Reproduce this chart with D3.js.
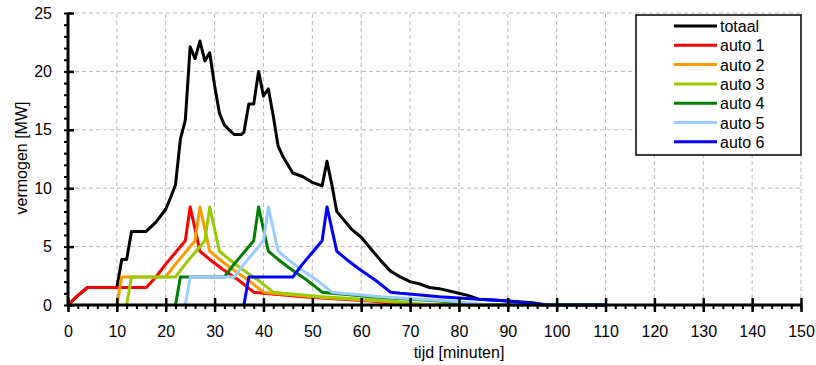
<!DOCTYPE html>
<html>
<head>
<meta charset="utf-8">
<script src="https://cdn.jsdelivr.net/npm/d3@7"></script>
<style>
  body { margin: 0; background: #fff; }
  text { font-family: "Liberation Sans", Arial, sans-serif; }
</style>
</head>
<body>
<div id="chart"></div>
<script>
// series names and colours
var names = ["totaal", "auto 1", "auto 2", "auto 3", "auto 4", "auto 5", "auto 6"];
var colors = ["#000000", "#ff0000", "#ff9900", "#99cc00", "#008000", "#99ccff", "#0000ff"];

// [tijd, vermogen]
var totaal = [[0,0],[2,0.8],[4,1.5],[10,1.5],[11,3.9],[12,3.9],[13,6.3],[16,6.3],[18,7.1],[20,8.2],[21,9.2],[22,10.3],
  [23,14.2],[24,15.8],[25,22.1],[26,21.1],[27,22.6],[28,20.9],[29,21.6],[30,18.8],[31,16.4],[32,15.4],[33,15.0],
  [34,14.6],[35.5,14.6],[36,14.8],[37,17.2],[38,17.2],[39,20.0],[40,17.9],[41,18.5],[42,16.2],[43,13.6],[44,12.7],
  [46,11.3],[48,11.0],[50,10.5],[52,10.2],[53,12.3],[54,10.3],[55,8.0],[56,7.5],[58,6.5],[60,5.8],[62,4.8],[64,3.8],
  [66,2.9],[68,2.4],[70,2.0],[72,1.8],[74,1.5],[76,1.4],[78,1.2],[80,1.0],[82,0.8],[84,0.5],[86,0.45],[88,0.4],
  [90,0.35],[95,0.2],[98,0],[110,0]];
var auto1 = [[0,0],[2,0.8],[4,1.5],[16,1.5],[18,2.4],[20,3.5],[22,4.5],[24,5.5],[25,8.4],[27,4.6],[29,3.9],[31.5,3.1],
  [35,2.1],[38,1.1],[40,1.0],[43,0.9],[48,0.7],[56,0.5],[62,0.35],[70,0],[110,0]];
var auto2 = [[10,0],[11,2.4],[20,2.4],[22,3.5],[24,4.5],[26,5.5],[27,8.4],[29,4.6],[31,3.9],[33.5,3.1],[37,2.1],
  [40,1.1],[42,1.0],[45,0.9],[50,0.7],[58,0.5],[64,0.35],[72,0],[110,0]];
var auto3 = [[12,0],[13,2.4],[22,2.4],[24,3.5],[26,4.5],[28,5.5],[29,8.4],[31,4.6],[33,3.9],[35.5,3.1],[39,2.1],
  [42,1.1],[44,1.0],[47,0.9],[52,0.7],[60,0.5],[66,0.35],[74,0],[110,0]];
var auto4 = [[22,0],[23,2.4],[32,2.4],[34,3.5],[36,4.5],[38,5.5],[39,8.4],[41,4.6],[43,3.9],[45.5,3.1],[49,2.1],
  [52,1.1],[54,1.0],[57,0.9],[62,0.7],[70,0.5],[76,0.35],[84,0],[110,0]];
var auto5 = [[24,0],[25,2.4],[34,2.4],[36,3.5],[38,4.5],[40,5.5],[41,8.4],[43,4.6],[45,3.9],[47.5,3.1],[51,2.1],
  [54,1.1],[56,1.0],[59,0.9],[64,0.7],[72,0.5],[78,0.35],[86,0],[110,0]];
var auto6 = [[36,0],[37,2.4],[46,2.4],[48,3.5],[50,4.5],[52,5.5],[53,8.4],[55,4.6],[57,3.9],[59.5,3.1],[63,2.1],
  [66,1.1],[68,1.0],[71,0.9],[76,0.7],[84,0.5],[90,0.35],[98,0],[110,0]];

var xTicks = [0,10,20,30,40,50,60,70,80,90,100,110,120,130,140,150];
var yTicks = [0,5,10,15,20,25];

function init() {
    var series = [totaal, auto1, auto2, auto3, auto4, auto5, auto6];
    var w = 816;
    var h = 365;

    var svg = d3.select("#chart")
        .append("svg")
        .attr("width", w)
        .attr("height", h);

    var x = d3.scaleLinear().domain([0, 150]).range([68, 801]);
    var y = d3.scaleLinear().domain([0, 25]).range([305, 13]);

    //dashed grid
    svg.append("g").selectAll("line")
        .data(xTicks.slice(1))
        .enter().append("line")
        .attr("x1", function (d) { return x(d); })
        .attr("x2", function (d) { return x(d); })
        .attr("y1", y(0))
        .attr("y2", y(25))
        .attr("stroke", "#b8b8b8")
        .attr("stroke-width", 1)
        .attr("stroke-dasharray", "4,3");
    svg.append("g").selectAll("line")
        .data(yTicks.slice(1))
        .enter().append("line")
        .attr("x1", x(0))
        .attr("x2", x(150))
        .attr("y1", function (d) { return y(d); })
        .attr("y2", function (d) { return y(d); })
        .attr("stroke", "#b8b8b8")
        .attr("stroke-width", 1)
        .attr("stroke-dasharray", "4,3");

    //lines
    var line = d3.line()
        .x(function (d) { return x(d[0]); })
        .y(function (d) { return y(d[1]); });

    svg.append("g").selectAll("path")
        .data(series)
        .enter().append("path")
        .attr("d", line)
        .attr("fill", "none")
        .attr("stroke", function (d, i) { return colors[i]; })
        .attr("stroke-width", 3)
        .attr("stroke-linejoin", "round");

    //minor ticks
    var xMinor = d3.range(0, 151, 2);
    var yMinor = d3.range(0, 26, 1);
    svg.append("g")
        .attr("transform", "translate(0," + y(0) + ")")
        .call(d3.axisBottom(x).tickValues(xMinor).tickSize(4).tickFormat(""))
        .call(function (g) {
            g.select(".domain").remove();
            g.selectAll("line").attr("stroke-width", 2);
        });
    svg.append("g")
        .attr("transform", "translate(" + x(0) + ",0)")
        .call(d3.axisLeft(y).tickValues(yMinor).tickSize(4).tickFormat(""))
        .call(function (g) {
            g.select(".domain").remove();
            g.selectAll("line").attr("stroke-width", 2);
        });

    //major axes
    var xAxis = svg.append("g")
        .attr("transform", "translate(0," + y(0) + ")")
        .call(d3.axisBottom(x).tickValues(xTicks).tickSize(7).tickPadding(14));
    xAxis.selectAll(".tick line").attr("y1", -7).attr("stroke-width", 2.5);
    xAxis.select(".domain").attr("d", "M" + x(0) + ",0H" + x(150)).attr("stroke-width", 3);
    xAxis.selectAll("text").attr("font-size", 16).attr("fill", "#000")
        .style("font-family", "Liberation Sans, Arial, sans-serif");

    var yAxis = svg.append("g")
        .attr("transform", "translate(" + x(0) + ",0)")
        .call(d3.axisLeft(y).tickValues(yTicks).tickSize(6).tickPadding(10));
    yAxis.selectAll(".tick line").attr("x2", 6).attr("stroke-width", 2.5);
    yAxis.select(".domain").attr("d", "M0," + y(0) + "V" + y(25)).attr("stroke-width", 3);
    yAxis.selectAll("text").attr("font-size", 16).attr("fill", "#000")
        .style("font-family", "Liberation Sans, Arial, sans-serif");

    //axis titles
    svg.append("text")
        .attr("x", 459)
        .attr("y", 358)
        .attr("text-anchor", "middle")
        .attr("font-size", 16)
        .text("tijd [minuten]");
    svg.append("text")
        .attr("transform", "translate(27,158) rotate(-90)")
        .attr("text-anchor", "middle")
        .attr("font-size", 16)
        .text("vermogen [MW]");

    //legend
    var lg = svg.append("g");
    lg.append("rect")
        .attr("x", 636)
        .attr("y", 15)
        .attr("width", 165)
        .attr("height", 140)
        .attr("fill", "#fff")
        .attr("stroke", "#000")
        .attr("stroke-width", 1.5);
    var items = lg.selectAll("g.item")
        .data(names)
        .enter().append("g")
        .attr("class", "item")
        .attr("transform", function (d, i) { return "translate(0," + (26 + i * 19.3) + ")"; });
    items.append("line")
        .attr("x1", 674)
        .attr("x2", 717)
        .attr("stroke", function (d, i) { return colors[i]; })
        .attr("stroke-width", 3);
    items.append("text")
        .attr("x", 720)
        .attr("y", 6)
        .attr("font-size", 16)
        .text(function (d) { return d; });
}
window.onload = init;
</script>
</body>
</html>
